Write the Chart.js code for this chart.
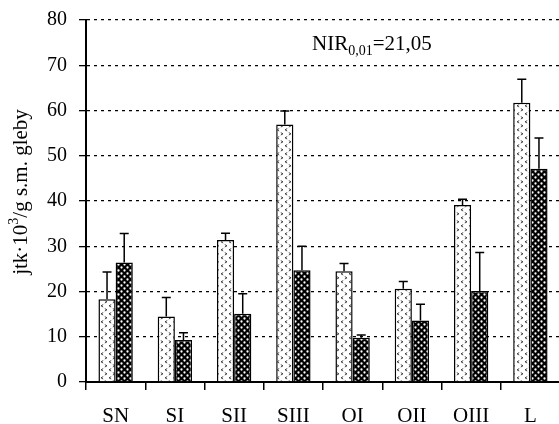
<!DOCTYPE html>
<html>
<head>
<meta charset="utf-8">
<script src="https://cdn.jsdelivr.net/npm/chart.js@4"></script>
<style>
  html, body { margin: 0; padding: 0; background: #fff; overflow: hidden; width: 559px; height: 424px; }
  #wrap { width: 580px; height: 440px; margin-top: -4px; }
</style>
</head>
<body>
<div id="wrap"><canvas id="myChart" width="580" height="440"></canvas></div>
<script>
  var categories = ["SN", "SI", "SII", "SIII", "OI", "OII", "OIII", "L"];
  var seriaA = [18.3, 14.5, 31.4, 56.9, 24.5, 20.6, 39.1, 61.7];
  var bladA  = [6.0, 4.2, 1.5, 3.0, 1.7, 1.6, 1.3, 5.2];
  var seriaB = [26.4, 9.3, 15.1, 24.7, 9.8, 13.6, 20.1, 47.1];
  var bladB  = [6.4, 1.6, 4.4, 5.3, 0.6, 3.6, 8.5, 6.8];
  var yTicks = [0, 10, 20, 30, 40, 50, 60, 70, 80];

  var font = "Liberation Serif";
  Chart.defaults.font.family = font;
  Chart.defaults.color = "#000";

  // wzor jasny: biale tlo z malymi szarymi ">" "<"
  function wzorJasny() {
    var c = document.createElement("canvas");
    c.width = 8; c.height = 8;
    var g = c.getContext("2d");
    g.fillStyle = "#fff";
    g.fillRect(0, 0, 8, 8);
    g.strokeStyle = "#444";
    g.lineWidth = 1;
    g.beginPath();
    g.moveTo(0.8, 0.6); g.lineTo(3.0, 1.8); g.lineTo(0.8, 3.0);
    g.moveTo(7.2, 4.6); g.lineTo(5.0, 5.8); g.lineTo(7.2, 7.0);
    g.stroke();
    return g.createPattern(c, "repeat");
  }

  // wzor ciemny: czarne tlo z bialymi kropkami
  function wzorCiemny() {
    var c = document.createElement("canvas");
    c.width = 6; c.height = 6;
    var g = c.getContext("2d");
    g.fillStyle = "#000";
    g.fillRect(0, 0, 6, 6);
    g.fillStyle = "#fff";
    g.beginPath(); g.arc(1.5, 1.5, 1.15, 0, Math.PI * 2); g.fill();
    g.beginPath(); g.arc(4.5, 4.5, 1.15, 0, Math.PI * 2); g.fill();
    return g.createPattern(c, "repeat");
  }

  var bledy = {
    id: "bledy",
    afterDatasetsDraw: function(chart) {
      var ctx = chart.ctx;
      var y = chart.scales.y;
      ctx.save();
      ctx.strokeStyle = "#000";
      ctx.lineWidth = 1.5;
      chart.data.datasets.forEach(function(ds, i) {
        var meta = chart.getDatasetMeta(i);
        meta.data.forEach(function(bar, j) {
          var top = y.getPixelForValue(ds.data[j] + ds.bledy[j]);
          ctx.beginPath();
          ctx.moveTo(bar.x, bar.y);
          ctx.lineTo(bar.x, top);
          ctx.moveTo(bar.x - 4.5, top);
          ctx.lineTo(bar.x + 4.5, top);
          ctx.stroke();
        });
      });
      ctx.restore();
    }
  };

  var napisy = {
    id: "napisy",
    afterDraw: function(chart) {
      var ctx = chart.ctx;
      ctx.save();
      ctx.fillStyle = "#000";
      ctx.textBaseline = "alphabetic";
      // NIR (canvas przesuniety o 4px w gore)
      var x = 312, b = 53.5;
      ctx.font = "21px '" + font + "'";
      ctx.fillText("NIR", x, b);
      x += ctx.measureText("NIR").width;
      ctx.font = "14px '" + font + "'";
      ctx.fillText("0,01", x, b + 5);
      x += ctx.measureText("0,01").width;
      ctx.font = "21px '" + font + "'";
      ctx.fillText("=21,05", x, b);

      // os Y
      var czesci = [["jtk\u00b710", 21, 0], ["3", 14, -9], ["/g s.m. gleby", 21, 0]];
      var dl = 0;
      czesci.forEach(function(p) { ctx.font = p[1] + "px '" + font + "'"; dl += ctx.measureText(p[0]).width; });
      ctx.translate(27, 196);
      ctx.rotate(-Math.PI / 2);
      var px = -dl / 2;
      czesci.forEach(function(p) {
        ctx.font = p[1] + "px '" + font + "'";
        ctx.fillText(p[0], px, p[2]);
        px += ctx.measureText(p[0]).width;
      });
      ctx.restore();
    }
  };

  var ctx = document.getElementById("myChart").getContext("2d");
  var chart = new Chart(ctx, {
    type: "bar",
    data: {
      labels: categories,
      datasets: [{
        data: seriaA,
        bledy: bladA,
        backgroundColor: wzorJasny(),
        borderColor: "#000",
        borderWidth: 1.5,
        categoryPercentage: 0.58,
        barPercentage: 1.0
      }, {
        data: seriaB,
        bledy: bladB,
        backgroundColor: wzorCiemny(),
        borderColor: "#000",
        borderWidth: 1.5,
        categoryPercentage: 0.58,
        barPercentage: 1.0
      }]
    },
    options: {
      responsive: false,
      animation: false,
      devicePixelRatio: 1,
      layout: { padding: { top: 15, right: 20, bottom: 0, left: 0 } },
      plugins: { legend: { display: false }, tooltip: { enabled: false } },
      scales: {
        x: {
          afterFit: function(s) { s.height = 54; },
          grid: { display: true, drawOnChartArea: false, drawTicks: true, tickLength: 8, offset: true, color: "#000", lineWidth: 1.5 },
          border: { display: true, color: "#000", width: 2 },
          ticks: { font: { size: 21, family: font }, color: "#000", padding: 14 }
        },
        y: {
          min: 0, max: 80,
          afterFit: function(s) { s.width = 86; },
          afterBuildTicks: function(s) { s.ticks = yTicks.map(function(v) { return { value: v }; }); },
          grid: { color: "#000", lineWidth: 1.3, drawTicks: true, tickLength: 7, tickBorderDash: [] },
          border: { display: true, color: "#000", width: 2, dash: [3, 4] },
          ticks: { font: { size: 20, family: font }, color: "#000", padding: 12 }
        }
      }
    },
    plugins: [bledy, napisy]
  });
</script>
</body>
</html>
